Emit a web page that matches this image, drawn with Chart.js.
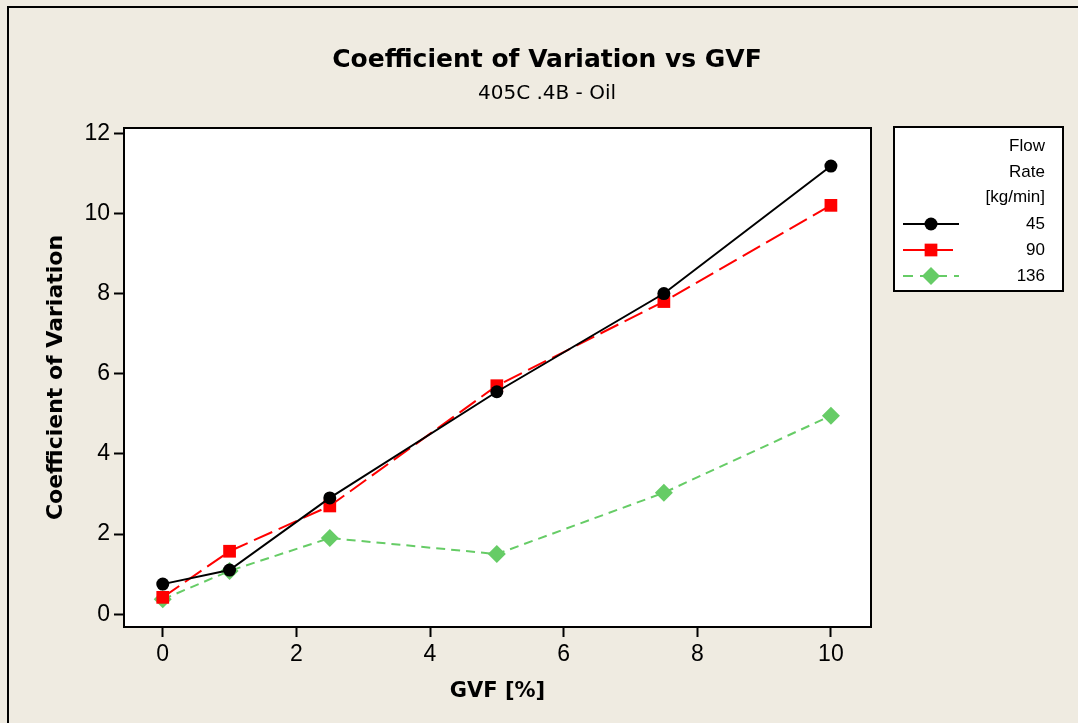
<!DOCTYPE html>
<html>
<head>
<meta charset="utf-8">
<script src="https://cdn.jsdelivr.net/npm/chart.js@4"></script>
<style>
  html, body { margin: 0; padding: 0; background: #efebe1; }
  #wrap { width: 1078px; height: 723px; }
</style>
</head>
<body>
<div id="wrap"><canvas id="cv"></canvas></div>
<script>
// values
var gvf = [0, 1, 2.5, 5, 7.5, 10];
var cv45 = [0.75, 1.1, 2.9, 5.55, 8.0, 11.18];
var cv90 = [0.42, 1.57, 2.7, 5.7, 7.8, 10.2];
var cv136 = [0.37, 1.08, 1.9, 1.5, 3.03, 4.95];
var seriesNames = ['45', '90', '136'];
var legendTitle = ['Flow', 'Rate', '[kg/min]'];
var xTicks = [0, 2, 4, 6, 8, 10];
var yTicks = [0, 2, 4, 6, 8, 10, 12];

var BG = '#efebe1';
var TICK_FONT = { family: '"Liberation Sans", Arial, sans-serif', size: 23 };
var TITLE_FAMILY = '"DejaVu Sans", Verdana, sans-serif';

function pts(ys) {
    return gvf.map(function(x, i) { return { x: x, y: ys[i] }; });
}

// draw one marker like Chart.js point styles
function marker(ctx, style, x, y, r, color) {
    ctx.save();
    ctx.fillStyle = color;
    ctx.beginPath();
    if (style === 'circle') {
        ctx.arc(x, y, r, 0, Math.PI * 2);
    } else if (style === 'rect') {
        var s = r * Math.SQRT1_2;
        ctx.rect(x - s, y - s, 2 * s, 2 * s);
    } else {
        ctx.moveTo(x - r, y); ctx.lineTo(x, y - r); ctx.lineTo(x + r, y); ctx.lineTo(x, y + r);
        ctx.closePath();
    }
    ctx.fill();
    ctx.restore();
}

var legendDash = [[], [22, 6], [10, 7]];

var framePlugin = {
    id: 'frame',
    beforeDraw: function(chart) {
        var ctx = chart.ctx, a = chart.chartArea;
        ctx.save();
        ctx.fillStyle = BG;
        ctx.fillRect(0, 0, chart.width, chart.height);
        // outer graph frame (only top/left visible in the crop)
        ctx.strokeStyle = '#000';
        ctx.lineWidth = 2;
        ctx.beginPath();
        ctx.moveTo(8, chart.height); ctx.lineTo(8, 7); ctx.lineTo(chart.width, 7);
        ctx.stroke();
        ctx.fillStyle = '#fff';
        ctx.fillRect(a.left, a.top, a.right - a.left, a.bottom - a.top);
        ctx.restore();
    },
    afterDatasetsDraw: function(chart) {
        var ctx = chart.ctx, a = chart.chartArea;
        ctx.save();
        ctx.strokeStyle = '#000';
        ctx.lineWidth = 2;
        ctx.strokeRect(a.left, a.top, a.right - a.left, a.bottom - a.top);
        ctx.restore();
    },
    afterDraw: function(chart) {
        // legend box on the right
        var ctx = chart.ctx;
        var bx = 894, by = 127, bw = 169, bh = 164;
        ctx.save();
        ctx.fillStyle = '#fff';
        ctx.fillRect(bx, by, bw, bh);
        ctx.strokeStyle = '#000';
        ctx.lineWidth = 2;
        ctx.strokeRect(bx, by, bw, bh);
        ctx.fillStyle = '#000';
        ctx.font = '17px "Liberation Sans", Arial, sans-serif';
        ctx.textAlign = 'right';
        ctx.textBaseline = 'middle';
        var tx = 1045;
        var rows = [146, 172, 197];
        legendTitle.forEach(function(t, i) { ctx.fillText(t, tx, rows[i]); });
        var ly = [224, 250, 276];
        chart.data.datasets.forEach(function(ds, i) {
            var y = ly[i];
            ctx.save();
            ctx.strokeStyle = ds.borderColor;
            ctx.lineWidth = ds.borderWidth;
            ctx.setLineDash(legendDash[i]);
            ctx.beginPath();
            ctx.moveTo(903, y); ctx.lineTo(i === 1 ? 953 : 959, y);
            ctx.stroke();
            ctx.restore();
            marker(ctx, ds.pointStyle, 931, y, ds.pointRadius, ds.pointBackgroundColor);
            ctx.fillStyle = '#000';
            ctx.fillText(seriesNames[i], tx, y);
        });
        ctx.restore();
    }
};

new Chart(document.getElementById('cv'), {
    type: 'line',
    data: {
        datasets: [
            { label: seriesNames[0], data: pts(cv45), borderColor: '#000000', borderWidth: 2,
              pointStyle: 'circle', pointRadius: 6.5, pointBackgroundColor: '#000000', pointBorderWidth: 0 },
            { label: seriesNames[1], data: pts(cv90), borderColor: '#ff0000', borderWidth: 2, borderDash: [20, 7],
              pointStyle: 'rect', pointRadius: 9, pointBackgroundColor: '#ff0000', pointBorderWidth: 0 },
            { label: seriesNames[2], data: pts(cv136), borderColor: '#66cc66', borderWidth: 2, borderDash: [9, 6],
              pointStyle: 'rectRot', pointRadius: 9, pointBackgroundColor: '#66cc66', pointBorderWidth: 0 }
        ]
    },
    options: {
        responsive: true,
        maintainAspectRatio: false,
        animation: false,
        layout: { padding: { left: 30, right: 14, top: 30, bottom: 0 } },
        plugins: {
            legend: { display: false },
            tooltip: { enabled: false },
            title: {
                display: true, text: 'Coefficient of Variation vs GVF', color: '#000',
                font: { family: TITLE_FAMILY, size: 25, weight: 'bold' },
                padding: { top: 15, bottom: 7 }
            },
            subtitle: {
                display: true, text: '405C .4B - Oil', color: '#000',
                font: { family: TITLE_FAMILY, size: 20 },
                padding: { top: 0, bottom: 22 }
            }
        },
        scales: {
            x: {
                type: 'linear', min: -0.58, max: 10.6,
                afterBuildTicks: function(s) { s.ticks = xTicks.map(function(v) { return { value: v }; }); },
                afterFit: function(s) { s.height = 96; },
                grid: { drawOnChartArea: false, tickLength: 10, tickWidth: 2, tickColor: '#000' },
                border: { display: false },
                ticks: { color: '#000', font: TICK_FONT, padding: 4, maxRotation: 0 },
                title: { display: true, text: 'GVF [%]', color: '#000',
                    font: { family: TITLE_FAMILY, size: 21, weight: 'bold' }, padding: { top: 0, bottom: 19 } }
            },
            y: {
                type: 'linear', min: -0.32, max: 12.13,
                afterBuildTicks: function(s) { s.ticks = yTicks.map(function(v) { return { value: v }; }); },
                afterFit: function(s) { s.width = 94; },
                grid: { drawOnChartArea: false, tickLength: 10, tickWidth: 2, tickColor: '#000' },
                border: { display: false },
                ticks: { color: '#000', font: TICK_FONT, padding: 4 },
                title: { display: true, text: 'Coefficient of Variation', color: '#000',
                    font: { family: TITLE_FAMILY, size: 22, weight: 'bold' }, padding: { top: 13, bottom: 0 } }
            },
            yR: {
                type: 'linear', position: 'right',
                afterFit: function(s) { s.width = 193; },
                grid: { display: false }, border: { display: false }, ticks: { display: false }
            }
        }
    },
    plugins: [framePlugin]
});
</script>
</body>
</html>
